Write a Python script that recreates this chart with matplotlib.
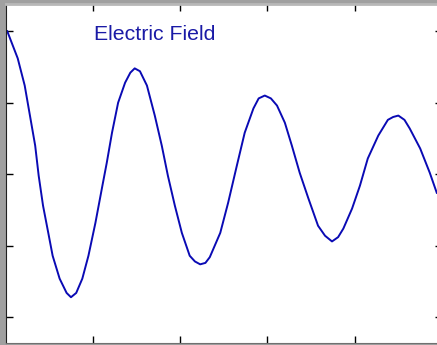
import matplotlib.pyplot as plt

# points (time, field)
t = [0.02, 0.14, 0.22, 0.28, 0.34, 0.38, 0.43, 0.49, 0.54, 0.62, 0.70, 0.75, 0.81,
     0.88, 0.95, 1.03, 1.11, 1.16, 1.22, 1.29, 1.37, 1.43, 1.48, 1.54, 1.62, 1.71,
     1.79, 1.86, 1.94, 2.02, 2.11, 2.17, 2.23, 2.29, 2.34, 2.46, 2.55, 2.65, 2.74,
     2.84, 2.90, 2.97, 3.04, 3.11, 3.20, 3.28, 3.37, 3.47, 3.58, 3.66, 3.74, 3.81,
     3.87, 3.97, 4.06, 4.15, 4.27, 4.38, 4.44, 4.50, 4.57, 4.63, 4.75, 4.86, 4.94]
field = [1.00, 0.81, 0.62, 0.41, 0.20, -0.01, -0.22, -0.41, -0.57, -0.73, -0.83, -0.86, -0.83,
         -0.73, -0.57, -0.34, -0.08, 0.08, 0.29, 0.50, 0.64, 0.71, 0.74, 0.72, 0.62, 0.41,
         0.20, -0.01, -0.22, -0.41, -0.57, -0.61, -0.63, -0.62, -0.58, -0.41, -0.20, 0.06, 0.29,
         0.46, 0.53, 0.55, 0.53, 0.48, 0.36, 0.20, 0.01, -0.17, -0.36, -0.43, -0.47, -0.44,
         -0.38, -0.24, -0.08, 0.11, 0.27, 0.38, 0.40, 0.41, 0.38, 0.32, 0.18, 0.01, -0.13]

xticks = [1, 2, 3, 4]
yticks = [-1, -0.5, 0, 0.5, 1]

fig = plt.figure(figsize=(4.37, 3.45), dpi=100, facecolor='#a0a0a0')
ax = fig.add_axes([5.5 / 437, 2 / 345, 436.5 / 437, 339 / 345])

ax.plot(t, field, color='#0a0ab4', linewidth=1.4)
ax.text(1.01, 0.94, 'Electric Field', color='#1a1aa6', fontsize=15.3,
        family='Liberation Sans', ha='left', va='baseline')

ax.set_xlim(0, 5)
ax.set_ylim(-1.18, 1.19)
ax.set_xticks(xticks)
ax.set_yticks(yticks)
ax.tick_params(direction='in', length=5, width=1, top=True, right=True,
               labelbottom=False, labelleft=False)

ax.spines['top'].set_color('#b8b8b8')
ax.spines['top'].set_linewidth(2)
ax.spines['bottom'].set_color('#707070')
ax.spines['left'].set_color('#202020')

plt.savefig('out.png', dpi=100, facecolor=fig.get_facecolor())
